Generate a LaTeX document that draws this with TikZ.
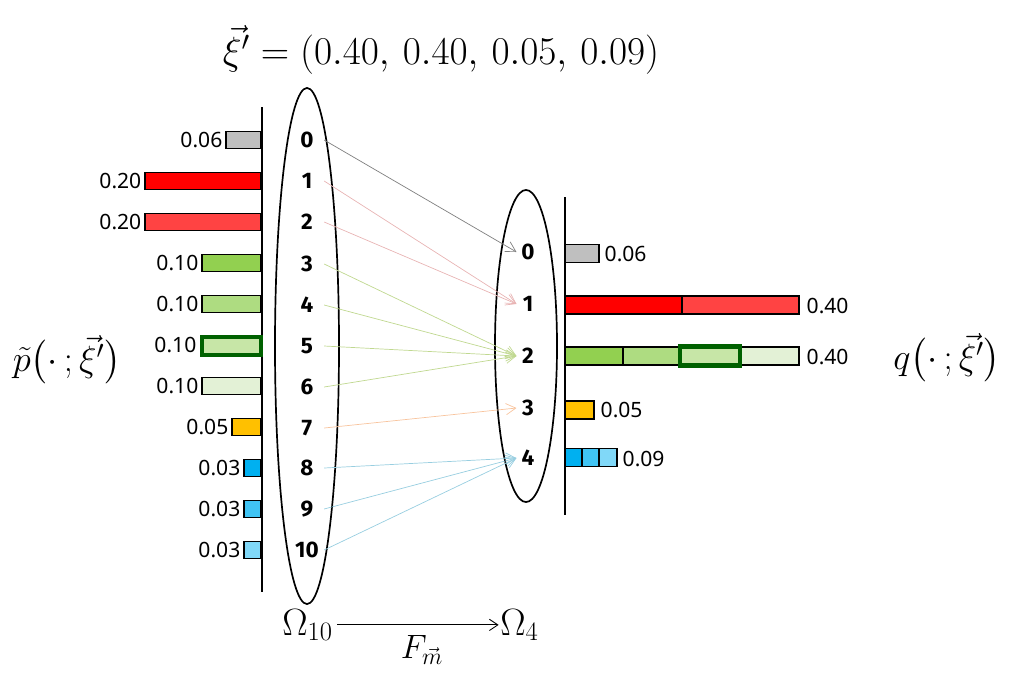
\documentclass[tikz,border=0pt]{standalone}
\usepackage{fix-cm}
\usepackage{amsmath, amssymb}
\usepackage{fontspec}
\newfontfamily\numfont{Noto Sans}
\newfontfamily\idfont{Fira Sans}
\usetikzlibrary{arrows.meta}
\definecolor{barGray}{HTML}{BFBFBF}
\definecolor{barRed}{HTML}{FF0000}
\definecolor{barRedL}{HTML}{FF4343}
\definecolor{barGreenA}{HTML}{92D050}
\definecolor{barGreenB}{HTML}{AEDC81}
\definecolor{barGreenC}{HTML}{C7E6A7}
\definecolor{barGreenD}{HTML}{E3F1D6}
\definecolor{barOrange}{HTML}{FFC000}
\definecolor{barBlueA}{HTML}{00B0F0}
\definecolor{barBlueB}{HTML}{40C4F4}
\definecolor{barBlueC}{HTML}{80D8F8}
\definecolor{pickGreen}{HTML}{006100}
\definecolor{edgeGray}{HTML}{7F7F7F}
\definecolor{edgeRed}{HTML}{E8B4B4}
\definecolor{edgeGreen}{HTML}{C0D890}
\definecolor{edgeOrange}{HTML}{F8C49E}
\definecolor{edgeBlue}{HTML}{98CEE0}

\begin{document}
\begin{tikzpicture}[x = 0.025cm, y = -0.025cm]
\tikzstyle{barStyle}=[draw = black, line width = 1pt]
\tikzstyle{pickStyle}=[draw = pickGreen, line width = 3pt]
\tikzstyle{leftNum}=[font = \idfont\bfseries\fontsize{16}{18}\selectfont, minimum width = 24pt, inner sep = 0pt]
\tikzstyle{rightNum}=[font = \idfont\bfseries\fontsize{16}{18}\selectfont, minimum width = 16pt, inner sep = 0pt]
\tikzstyle{valLeft}=[font = \numfont\fontsize{15}{17}\selectfont, anchor = east, inner sep = 1pt]
\tikzstyle{valRight}=[font = \numfont\fontsize{15}{17}\selectfont, anchor = west, inner sep = 1pt]
\tikzstyle{mapEdge}=[-{Straight Barb[length = 7pt, width = 8pt]}, line width = 0.5pt]
\useasboundingbox (0,0) rectangle (1031,673);
% title and side labels
\node[font = \fontsize{28}{32}\selectfont] (title) at (441,50) {$\vec{\xi}' = (0.40,\, 0.40,\, 0.05,\, 0.09)$};
\node[font = \fontsize{26}{30}\selectfont] (pLabel) at (67,360) {$\tilde{p}\bigl(\cdot\,; \vec{\xi}'\bigr)$};
\node[font = \fontsize{26}{30}\selectfont] (qLabel) at (947,358) {$q\bigl(\cdot\,; \vec{\xi}'\bigr)$};
% sets
\draw[line width = 1.2pt] (307,346) ellipse [x radius = 0.8cm, y radius = 6.45cm];
\draw[line width = 1.2pt] (526,346) ellipse [x radius = 0.775cm, y radius = 3.9cm];
\draw[line width = 0.8pt] (262,107) -- (262,592);
\draw[line width = 0.8pt] (565,197) -- (565,515);
% left bars
\filldraw[barStyle, fill = barGray] (226,131.5) rectangle (261,148.5);
\filldraw[barStyle, fill = barRed] (145,172.5) rectangle (261,189.5);
\filldraw[barStyle, fill = barRedL] (145,213.5) rectangle (261,230.5);
\filldraw[barStyle, fill = barGreenA] (202,254.5) rectangle (261,271.5);
\filldraw[barStyle, fill = barGreenB] (202,295.5) rectangle (261,312.5);
\filldraw[pickStyle, fill = barGreenC] (202,337) rectangle (261,355);
\filldraw[barStyle, fill = barGreenD] (202,377.5) rectangle (261,394.5);
\filldraw[barStyle, fill = barOrange] (232,418.5) rectangle (261,435.5);
\filldraw[barStyle, fill = barBlueA] (244,459.5) rectangle (261,476.5);
\filldraw[barStyle, fill = barBlueB] (244,500.5) rectangle (261,517.5);
\filldraw[barStyle, fill = barBlueC] (244,541.5) rectangle (261,558.5);
\node[valLeft] (pv0) at (224,140) {0.06};
\node[valLeft] (pv1) at (143,181) {0.20};
\node[valLeft] (pv2) at (143,222) {0.20};
\node[valLeft] (pv3) at (200,263) {0.10};
\node[valLeft] (pv4) at (200,304) {0.10};
\node[valLeft] (pv5) at (198,345) {0.10};
\node[valLeft] (pv6) at (200,386) {0.10};
\node[valLeft] (pv7) at (230,427) {0.05};
\node[valLeft] (pv8) at (242,468) {0.03};
\node[valLeft] (pv9) at (242,509) {0.03};
\node[valLeft] (pv10) at (242,550) {0.03};
% right bars
\filldraw[barStyle, fill = barGray] (565,244.5) rectangle (599,262.5);
\filldraw[barStyle, fill = barRed] (565,296) rectangle (682,314);
\filldraw[barStyle, fill = barRedL] (682,296) rectangle (799,314);
\filldraw[barStyle, fill = barGreenA] (565,347) rectangle (623,365);
\filldraw[barStyle, fill = barGreenB] (623,347) rectangle (682,365);
\filldraw[barStyle, fill = barGreenD] (740,347) rectangle (799,365);
\filldraw[pickStyle, fill = barGreenC] (680,346.5) rectangle (740,365.5);
\filldraw[barStyle, fill = barOrange] (565,401) rectangle (594,419);
\filldraw[barStyle, fill = barBlueA] (565,448.5) rectangle (582,466.5);
\filldraw[barStyle, fill = barBlueB] (582,448.5) rectangle (599,466.5);
\filldraw[barStyle, fill = barBlueC] (599,448.5) rectangle (617,466.5);
\node[valRight] (qv0) at (603,254) {0.06};
\node[valRight] (qv1) at (805,306) {0.40};
\node[valRight] (qv2) at (805,357) {0.40};
\node[valRight] (qv3) at (599,410) {0.05};
\node[valRight] (qv4) at (621,459) {0.09};
% elements
\node[leftNum] (l0) at (307,140) {0};
\node[leftNum] (l1) at (307,181) {1};
\node[leftNum] (l2) at (307,222) {2};
\node[leftNum] (l3) at (307,264) {3};
\node[leftNum] (l4) at (307,305) {4};
\node[leftNum] (l5) at (307,346) {5};
\node[leftNum] (l6) at (307,387) {6};
\node[leftNum] (l7) at (307,428) {7};
\node[leftNum] (l8) at (307,468) {8};
\node[leftNum] (l9) at (307,509) {9};
\node[leftNum] (l10) at (307,550) {10};
\node[rightNum] (r0) at (528,252) {0};
\node[rightNum] (r1) at (528,304) {1};
\node[rightNum] (r2) at (528,356) {2};
\node[rightNum] (r3) at (528,408) {3};
\node[rightNum] (r4) at (528,458) {4};
% the map
\draw[mapEdge, edgeGray] (l0.east) -- (r0.west);
\draw[mapEdge, edgeRed] (l1.east) -- (r1.west);
\draw[mapEdge, edgeRed] (l2.east) -- (r1.west);
\draw[mapEdge, edgeGreen] (l3.east) -- (r2.west);
\draw[mapEdge, edgeGreen] (l4.east) -- (r2.west);
\draw[mapEdge, edgeGreen] (l5.east) -- (r2.west);
\draw[mapEdge, edgeGreen] (l6.east) -- (r2.west);
\draw[mapEdge, edgeOrange] (l7.east) -- (r3.west);
\draw[mapEdge, edgeBlue] (l8.east) -- (r4.west);
\draw[mapEdge, edgeBlue] (l9.east) -- (r4.west);
\draw[mapEdge, edgeBlue] (l10.east) -- (r4.west);
% bottom
\node[font = \fontsize{27}{30}\selectfont, anchor = base west, inner sep = 0pt] (omegaTen) at (282,635) {$\Omega_{10}$};
\node[font = \fontsize{27}{30}\selectfont, anchor = base west, inner sep = 0pt] (omegaFour) at (500,635) {$\Omega_{4}$};
\node[font = \fontsize{24}{27}\selectfont] (fMap) at (422,650) {$F_{\vec{m}}$};
\draw[-{Straight Barb[length = 6pt, width = 8pt]}, line width = 0.6pt] ([xshift = 3pt]omegaTen.east) -- ([xshift = -1pt]omegaFour.west);
\end{tikzpicture}
\end{document}
